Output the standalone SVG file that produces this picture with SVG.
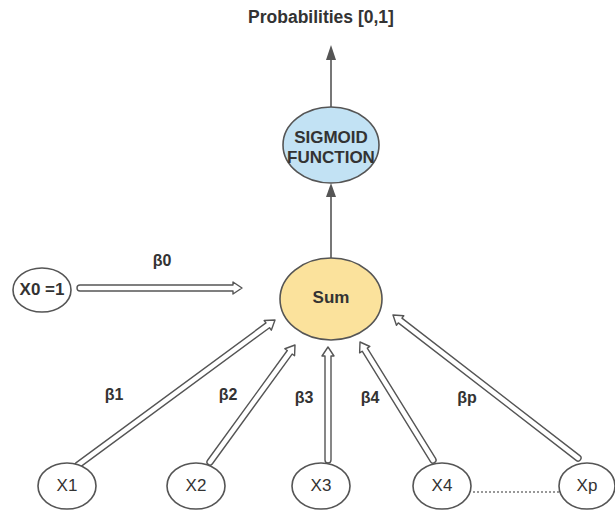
<svg xmlns="http://www.w3.org/2000/svg" width="615" height="510" viewBox="0 0 615 510">
<defs>
<style>
.node ellipse{stroke:#555;stroke-width:1.6}
.in{fill:#fff}
.lbl{font-family:"Liberation Sans",Arial,sans-serif;fill:#333;text-anchor:middle}
.b{font-weight:bold}
.hollow{fill:#fff;stroke:#555;stroke-width:1.4;stroke-linejoin:round}
.solid{stroke:#555;stroke-width:1.6;fill:none}
.head{fill:#555}
</style>
</defs>
<rect width="615" height="510" fill="#fff"/>
<g id="connectors">
  <line class="solid" x1="331" y1="107" x2="331" y2="58"/>
  <path class="head" d="M331,45 L336,60 L326,60 Z"/>
  <line class="solid" x1="331" y1="258" x2="331" y2="195"/>
  <path class="head" d="M331,183 L336,197 L326,197 Z"/>
  <path class="hollow" transform="translate(242,288)" d="M-162,-3 L-9,-3 L-9,-6 L0,0 L-9,6 L-9,3 L-162,3 A3,3 0 0 1 -162,-3 Z"/>
  <path class="hollow" transform="translate(275,320) rotate(-36.35)" d="M-244.6,-3 L-9,-3 L-9,-6 L0,0 L-9,6 L-9,3 L-244.6,3 A3,3 0 0 1 -244.6,-3 Z"/>
  <path class="hollow" transform="translate(295,345) rotate(-54)" d="M-144.6,-3 L-9,-3 L-9,-6 L0,0 L-9,6 L-9,3 L-144.6,3 A3,3 0 0 1 -144.6,-3 Z"/>
  <path class="hollow" transform="translate(328,347) rotate(-90)" d="M-113,-3 L-9,-3 L-9,-6 L0,0 L-9,6 L-9,3 L-113,3 A3,3 0 0 1 -113,-3 Z"/>
  <path class="hollow" transform="translate(360,342) rotate(-121.74)" d="M-138.8,-3 L-9,-3 L-9,-6 L0,0 L-9,6 L-9,3 L-138.8,3 A3,3 0 0 1 -138.8,-3 Z"/>
  <path class="hollow" transform="translate(393,315) rotate(-142.3)" d="M-233.8,-3 L-9,-3 L-9,-6 L0,0 L-9,6 L-9,3 L-233.8,3 A3,3 0 0 1 -233.8,-3 Z"/>
  <line x1="473" y1="492" x2="563" y2="492" stroke="#777" stroke-width="1.5" stroke-dasharray="2 2"/>
</g>
<text class="lbl b" x="321" y="23" font-size="17.5">Probabilities [0,1]</text>
<g id="sigmoid" class="node">
  <ellipse cx="331" cy="145" rx="48" ry="38" fill="#c2e2f4"/>
  <text class="lbl b" x="331" y="143" font-size="17" fill="#2e3d4c">SIGMOID</text>
  <text class="lbl b" x="331" y="163" font-size="17" fill="#2e3d4c">FUNCTION</text>
</g>
<g id="sum" class="node">
  <ellipse cx="331" cy="299" rx="51" ry="41" fill="#fbe29c"/>
  <text class="lbl b" x="331" y="303" font-size="17">Sum</text>
</g>
<g id="x0" class="node">
  <ellipse class="in" cx="42" cy="290" rx="29" ry="22"/>
  <text class="lbl b" x="42" y="295" font-size="17">X0 =1</text>
</g>
<g id="x1" class="node">
  <ellipse class="in" cx="67" cy="486" rx="29" ry="23"/>
  <text class="lbl" x="67" y="491" font-size="17">X1</text>
</g>
<g id="x2" class="node">
  <ellipse class="in" cx="196" cy="486" rx="29" ry="23"/>
  <text class="lbl" x="196" y="491" font-size="17">X2</text>
</g>
<g id="x3" class="node">
  <ellipse class="in" cx="321" cy="486" rx="29" ry="23"/>
  <text class="lbl" x="321" y="491" font-size="17">X3</text>
</g>
<g id="x4" class="node">
  <ellipse class="in" cx="442" cy="486" rx="29" ry="23"/>
  <text class="lbl" x="442" y="491" font-size="17">X4</text>
</g>
<g id="xp" class="node">
  <ellipse class="in" cx="587" cy="486" rx="28" ry="23"/>
  <text class="lbl" x="587" y="491" font-size="17">Xp</text>
</g>
<g id="weights">
  <text class="lbl b" x="162" y="266" font-size="16">β0</text>
  <text class="lbl b" x="114" y="400" font-size="16">β1</text>
  <text class="lbl b" x="228" y="400" font-size="16">β2</text>
  <text class="lbl b" x="304" y="403" font-size="16">β3</text>
  <text class="lbl b" x="370" y="403" font-size="16">β4</text>
  <text class="lbl b" x="467" y="403" font-size="16">βp</text>
</g>
</svg>
